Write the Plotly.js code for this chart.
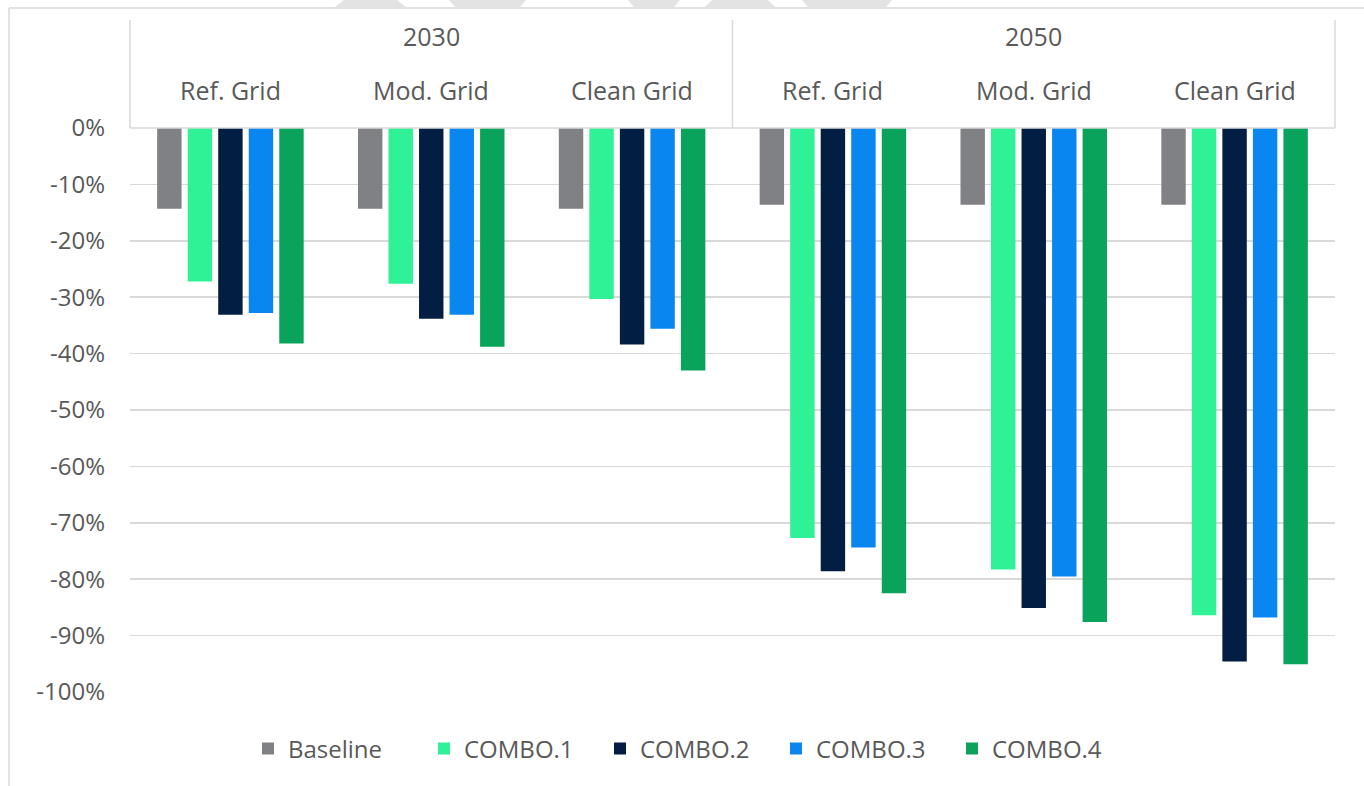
<!DOCTYPE html>
<html>
<head>
<meta charset="utf-8">
<script src="https://cdn.plot.ly/plotly-3.0.1.min.js"></script>
<style>html,body{margin:0;padding:0;background:#fff;}#chart{width:1364px;height:786px;}</style>
</head>
<body>
<div id="chart"></div>
<script>
// Data
const years = ["2030", "2030", "2030", "2050", "2050", "2050"];
const grids = ["Ref. Grid", "Mod. Grid", "Clean Grid", "Ref. Grid", "Mod. Grid", "Clean Grid"];
const categories = ["2030 Ref. Grid", "2030 Mod. Grid", "2030 Clean Grid", "2050 Ref. Grid", "2050 Mod. Grid", "2050 Clean Grid"];
const yearLabels = ["2030", "2050"];
const seriesNames = ["Baseline", "COMBO.1", "COMBO.2", "COMBO.3", "COMBO.4"];
const baseline = [-14.3, -14.3, -14.3, -13.6, -13.6, -13.6];
const combo1 = [-27.2, -27.6, -30.3, -72.7, -78.3, -86.4];
const combo2 = [-33.1, -33.8, -38.4, -78.6, -85.1, -94.6];
const combo3 = [-32.8, -33.1, -35.6, -74.4, -79.5, -86.8];
const combo4 = [-38.2, -38.8, -43.0, -82.5, -87.6, -95.1];
const seriesValues = [baseline, combo1, combo2, combo3, combo4];
const yTickVals = [0, -10, -20, -30, -40, -50, -60, -70, -80, -90, -100];
const yTickText = ["0%", "-10%", "-20%", "-30%", "-40%", "-50%", "-60%", "-70%", "-80%", "-90%", "-100%"];

const colors = ["#808184", "#2EF295", "#021E42", "#0A86F0", "#0AA35B"];
const FONT = "'Open Sans', Inter, sans-serif";
const TXT = "#595959";
const LINE = "#d9d9d9";

const traces = seriesNames.map((name, i) => ({
  type: "bar",
  name: name,
  x: categories,
  y: seriesValues[i],
  marker: { color: colors[i], line: { width: 0 } },
  hoverinfo: "x+y+name"
}));

// geometry helpers (paper coords)
const plotL = 130, plotR = 1335, plotT = 128, plotB = 692;
const pw = plotR - plotL, ph = plotB - plotT;
const px = v => (v - plotL) / pw;
const py = v => (plotB - v) / ph;

const annotations = [];
categories.forEach((c, i) => {
  annotations.push({
    x: c, xref: "x", y: py(90), yref: "paper",
    text: grids[i], showarrow: false,
    font: { family: FONT, size: 25, color: TXT },
    xanchor: "center", yanchor: "middle"
  });
});
yearLabels.forEach((yr, i) => {
  annotations.push({
    x: 0.25 + 0.5 * i, xref: "paper", y: py(36), yref: "paper",
    text: yr, showarrow: false,
    font: { family: FONT, size: 25, color: TXT },
    xanchor: "center", yanchor: "middle"
  });
});

const shapes = [
  // header vertical lines
  { type: "line", xref: "paper", yref: "paper", x0: 0, x1: 0, y0: 1, y1: py(20), line: { color: LINE, width: 1.5 } },
  { type: "line", xref: "paper", yref: "paper", x0: 0.5, x1: 0.5, y0: 1, y1: py(20), line: { color: LINE, width: 1.5 } },
  { type: "line", xref: "paper", yref: "paper", x0: 1, x1: 1, y0: 1, y1: py(20), line: { color: LINE, width: 1.5 } },
  { type: "line", xref: "paper", yref: "paper", x0: 0, x1: 1, y0: 1, y1: 1, line: { color: LINE, width: 1.5 } },
  // outer frame (left and top)
  { type: "line", xref: "paper", yref: "paper", x0: px(9), x1: px(9), y0: py(8), y1: py(790), line: { color: LINE, width: 1.5 } },
  { type: "line", xref: "paper", yref: "paper", x0: px(9), x1: px(1370), y0: py(8), y1: py(8), line: { color: LINE, width: 1.5 } }
];
// faint watermark fragments along the top edge
[[335, 406, 344, 397], [455, 520, 449, 526], [634, 674, 628, 680], [705, 775, 712, 768], [808, 886, 802, 892]].forEach(s => {
  const [b0, b1, t0, t1] = s;
  shapes.push({
    type: "path", xref: "paper", yref: "paper",
    path: `M${px(b0)},${py(7)} L${px(b1)},${py(7)} L${px(t1)},${py(0)} L${px(t0)},${py(0)} Z`,
    fillcolor: "#e3e3e3", line: { width: 0 }, layer: "below"
  });
});

const layout = {
  width: 1364, height: 786,
  margin: { l: plotL, r: 1364 - plotR, t: plotT, b: 786 - plotB, pad: 0 },
  paper_bgcolor: "#ffffff", plot_bgcolor: "#ffffff",
  font: { family: FONT, color: TXT, size: 20 },
  barmode: "group",
  bargap: 0.24,
  bargroupgap: 0.2,
  showlegend: true,
  legend: {
    orientation: "h", x: px(688), xanchor: "center", y: py(749), yanchor: "middle",
    font: { family: FONT, size: 24, color: TXT },
    itemwidth: 30, entrywidth: 131, entrywidthmode: "pixels", traceorder: "normal"
  },
  xaxis: {
    type: "category", showticklabels: false, showgrid: false, zeroline: false,
    showline: false, ticks: "", fixedrange: true
  },
  yaxis: {
    range: [-100, 0], tickvals: yTickVals, ticktext: yTickText,
    tickfont: { family: FONT, size: 24, color: TXT },
    showgrid: true, gridcolor: LINE, gridwidth: 1.5,
    zeroline: false, showline: false, ticks: "", ticklabelstandoff: 24,
    fixedrange: true
  },
  shapes: shapes,
  annotations: annotations
};

Plotly.newPlot("chart", traces, layout, { displayModeBar: false, staticPlot: true });
</script>
</body>
</html>
